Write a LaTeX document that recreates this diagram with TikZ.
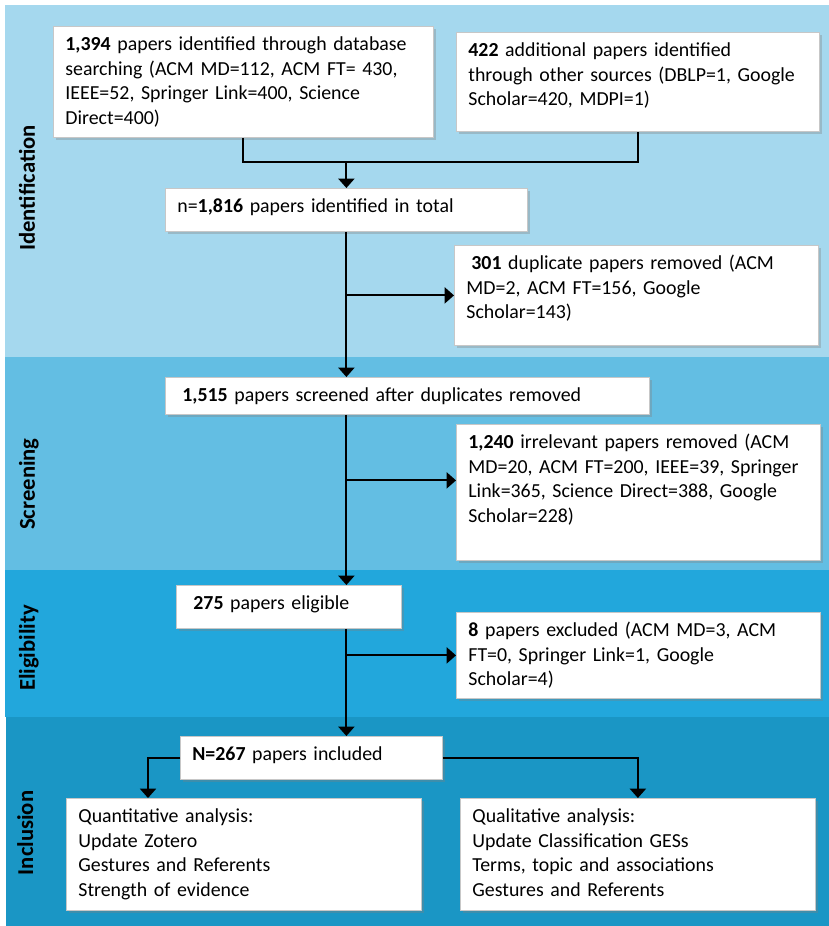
\documentclass[tikz,border=0pt]{standalone}
\usepackage{fontspec}
\setmainfont{Carlito}
\usetikzlibrary{arrows.meta,shadows}

\definecolor{identblue}{RGB}{165,216,238}
\definecolor{screenblue}{RGB}{99,190,227}
\definecolor{eligblue}{RGB}{34,167,220}
\definecolor{inclblue}{RGB}{26,150,197}

\begin{document}
\begin{tikzpicture}[x=0.75pt, y=-0.75pt,
  stagebox/.style={draw=black!22, line width=0.6pt, fill=white, anchor=north west, inner xsep=9pt, inner ysep=0pt, align=left, text height=18pt, font=\fontsize{14.9}{18.5}\selectfont, drop shadow={shadow xshift=2pt, shadow yshift=-2pt, opacity=0.35}},
  phase/.style={rotate=90, anchor=base, font=\fontsize{17}{20}\selectfont\bfseries},
  flow/.style={line width=1.4pt},
  arr/.style={flow, -{Triangle[width=12pt, length=7pt]}}]
  \useasboundingbox (0,0) rectangle (829,926);
  \fill[identblue] (5,5) rectangle (829,357);
  \fill[screenblue] (5,357) rectangle (829,570);
  \fill[eligblue] (5,570) rectangle (829,717);
  \fill[inclblue] (6,717) rectangle (829,926);

  \node[phase] (pIdent) at (35,188) {Identification};
  \node[phase] (pScreen) at (35,484) {Screening};
  \node[phase] (pElig) at (35,648) {Eligibility};
  \node[phase] (pIncl) at (33,833) {Inclusion};

  \node[stagebox, text width=267pt, text depth=65.25pt] (idDB) at (53,26) {\textbf{1,394} papers identified through database\\searching (ACM MD=112, ACM FT= 430,\\IEEE=52, Springer Link=400, Science\\Direct=400)};
  \node[stagebox, text width=254.25pt, text depth=56.25pt] (idOther) at (456,32) {\textbf{422} additional papers identified\\through other sources (DBLP=1, Google\\Scholar=420, MDPI=1)};
  \node[stagebox, text width=253.5pt, text depth=14.25pt] (total) at (165,188) {n=\textbf{1,816} papers identified in total};
  \node[stagebox, text width=255pt, text depth=57pt] (dup) at (454,245) {\hspace*{3.75pt}\textbf{301} duplicate papers removed (ACM\\MD=2, ACM FT=156, Google\\Scholar=143)};
  \node[stagebox, text width=345pt, text depth=9.75pt] (screened) at (165,377) {\hspace*{3.75pt}\textbf{1,515} papers screened after duplicates removed};
  \node[stagebox, text width=255pt, text depth=84pt] (irrel) at (456,424) {\textbf{1,240} irrelevant papers removed (ACM\\MD=20, ACM FT=200, IEEE=39, Springer\\Link=365, Science Direct=388, Google\\Scholar=228)};
  \node[stagebox, text width=150.75pt, text depth=14.25pt] (elig) at (176,585) {\hspace*{3.75pt}\textbf{275} papers eligible};
  \node[stagebox, text width=255pt, text depth=46.5pt] (excl) at (456,612) {\textbf{8} papers excluded (ACM MD=3, ACM\\FT=0, Springer Link=1, Google\\Scholar=4)};
  \node[stagebox, text width=178.5pt, text depth=14.25pt] (incl) at (180,736) {\textbf{N=267} papers included};
  \node[stagebox, text width=248.25pt, text depth=66pt] (quant) at (66,798) {Quantitative analysis:\\Update Zotero\\Gestures and Referents\\Strength of evidence};
  \node[stagebox, text width=248.25pt, text depth=66pt] (qual) at (460,798) {Qualitative analysis:\\Update Classification GESs\\Terms, topic and associations\\Gestures and Referents};

  \coordinate (merge) at (0,162);
  \draw[flow] (idDB.south) |- (total.north |- merge) -| (idOther.south);
  \draw[arr] (total.north |- merge) -- (total.north);
  \draw[arr] (total.south) -- (total.south |- screened.north);
  \draw[arr] (total.south |- dup.west) -- (dup.west);
  \draw[arr] (total.south |- screened.south) -- (total.south |- elig.north);
  \draw[arr] (total.south |- irrel.west) ++(0,-12) -- ([yshift=9pt]irrel.west);
  \draw[arr] (total.south |- elig.south) -- (total.south |- incl.north);
  \draw[arr] (total.south |- excl.west) -- (excl.west);
  \draw[arr] (incl.west) -| ([xshift=61.5pt]quant.north west);
  \draw[arr] (incl.east) -| (qual.north);
\end{tikzpicture}
\end{document}
